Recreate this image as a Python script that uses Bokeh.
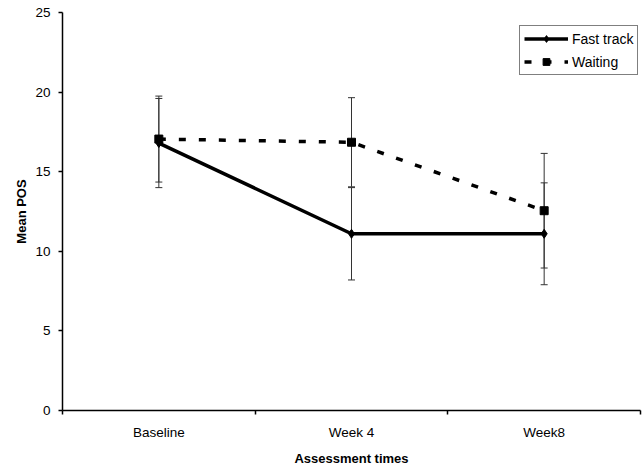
from bokeh.plotting import figure
from bokeh.models import (ColumnDataSource, Whisker, TeeHead, FixedTicker,
                          Legend, LegendItem, Range1d)
from bokeh.embed import file_html
from bokeh.resources import INLINE

# ---- data ----
categories = ["Baseline", "Week 4", "Week8"]
fast_mean = [16.8, 11.1, 11.1]
fast_err = [2.8, 2.9, 3.2]
wait_mean = [17.05, 16.85, 12.55]
wait_err = [2.7, 2.8, 3.6]
y_ticks = [0, 5, 10, 15, 20, 25]
series_labels = ["Fast track", "Waiting"]

xs = [i + 0.5 for i in range(len(categories))]
bounds = list(range(len(categories) + 1))

fast_src = ColumnDataSource(dict(
    x=xs, y=fast_mean,
    upper=[m + e for m, e in zip(fast_mean, fast_err)],
    lower=[m - e for m, e in zip(fast_mean, fast_err)]))
wait_src = ColumnDataSource(dict(
    x=xs, y=wait_mean,
    upper=[m + e for m, e in zip(wait_mean, wait_err)],
    lower=[m - e for m, e in zip(wait_mean, wait_err)]))

FONT = "Liberation Sans"

p = figure(width=644, height=468, output_backend="svg", toolbar_location=None,
           x_range=Range1d(0, len(categories)), y_range=Range1d(y_ticks[0], y_ticks[-1]),
           min_border_left=62, min_border_right=4, min_border_top=12,
           min_border_bottom=57)
p.outline_line_color = None
p.grid.visible = False
p.background_fill_color = "white"

# error bars
for src in (fast_src, wait_src):
    w = Whisker(base="x", upper="upper", lower="lower", source=src,
                line_color="#333333", line_width=1,
                upper_head=TeeHead(size=7, line_color="#333333", line_width=1),
                lower_head=TeeHead(size=7, line_color="#333333", line_width=1))
    p.add_layout(w)

fast_line = p.line("x", "y", source=fast_src, line_color="black", line_width=3.5)
fast_pts = p.scatter("x", "y", source=fast_src, marker="diamond", size=9,
                     color="black")
wait_line = p.line("x", "y", source=wait_src, line_color="black", line_width=3.5,
                   line_dash="7 13")
wait_pts = p.scatter("x", "y", source=wait_src, marker="square", size=8,
                     color="black")

# x axis
xa = p.xaxis[0]
xa.ticker = FixedTicker(ticks=xs, minor_ticks=bounds)
xa.major_label_overrides = {x: c for x, c in zip(xs, categories)}
xa.major_tick_line_color = None
xa.major_tick_in = 0
xa.major_tick_out = 0
xa.minor_tick_line_color = "black"
xa.minor_tick_line_width = 1.5
xa.minor_tick_in = 0
xa.minor_tick_out = 4
xa.major_label_standoff = 10
xa.axis_label = "Assessment times"
xa.axis_label_standoff = 8

# y axis
ya = p.yaxis[0]
ya.ticker = FixedTicker(ticks=y_ticks)
ya.major_tick_in = 0
ya.major_tick_out = 4
ya.major_tick_line_width = 1.5
ya.major_tick_line_color = "black"
ya.minor_tick_line_color = None
ya.major_label_standoff = 8
ya.axis_label = "Mean POS"
ya.axis_label_standoff = 3

for ax in (xa, ya):
    ax.axis_line_color = "black"
    ax.axis_line_width = 1.5
    ax.major_label_text_font = FONT
    ax.major_label_text_font_size = "13.5px"
    ax.major_label_text_color = "black"
    ax.axis_label_text_font = FONT
    ax.axis_label_text_font_size = "13px"
    ax.axis_label_text_font_style = "bold"
    ax.axis_label_text_color = "black"

legend = Legend(items=[
    LegendItem(label=series_labels[0], renderers=[fast_line, fast_pts]),
    LegendItem(label=series_labels[1], renderers=[wait_line, wait_pts]),
], location=(457, 335))
legend.label_text_font = FONT
legend.label_text_font_size = "14px"
legend.label_text_color = "black"
legend.glyph_width = 44
legend.glyph_height = 17
legend.label_standoff = 4
legend.padding = 4
legend.spacing = 6
legend.margin = 0
legend.border_line_color = "black"
legend.border_line_width = 1
legend.background_fill_color = "white"
legend.background_fill_alpha = 1
p.add_layout(legend)

open("out.html", "w").write(file_html(p, INLINE))
